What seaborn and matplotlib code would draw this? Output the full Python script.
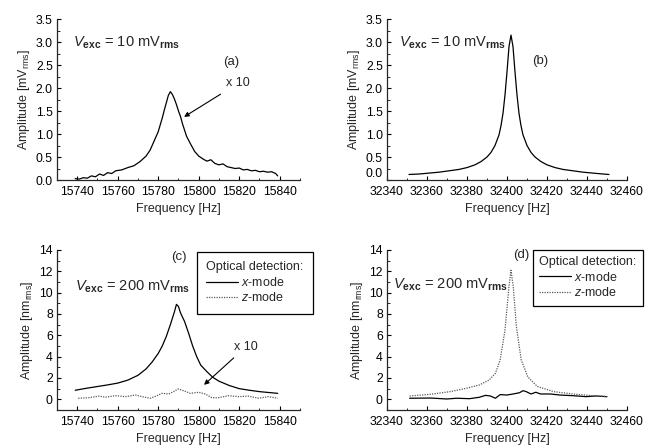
import numpy as np
import pandas as pd
import matplotlib
matplotlib.use("Agg")
import matplotlib.pyplot as plt
from matplotlib.ticker import MultipleLocator
import seaborn as sns

# panel (a): 10 mV excitation, low mode (x10)
a_freq = [15739, 15741, 15743, 15745, 15747, 15749, 15751, 15753, 15755, 15757,
          15759, 15762, 15765, 15768, 15771, 15774, 15776, 15778, 15780, 15782,
          15783, 15784, 15785, 15786, 15787, 15788, 15789, 15790, 15791, 15792,
          15794, 15796, 15798, 15800, 15802, 15804, 15806, 15808, 15810, 15812,
          15814, 15816, 15818, 15820, 15822, 15824, 15826, 15828, 15830, 15832,
          15834, 15836, 15838, 15839]
a_amp = [0.03, 0.02, 0.05, 0.04, 0.09, 0.07, 0.13, 0.10, 0.16, 0.14,
         0.20, 0.22, 0.27, 0.31, 0.40, 0.52, 0.65, 0.85, 1.05, 1.35,
         1.52, 1.68, 1.84, 1.92, 1.86, 1.76, 1.64, 1.50, 1.38, 1.22,
         0.95, 0.78, 0.62, 0.52, 0.46, 0.41, 0.44, 0.36, 0.33, 0.35,
         0.29, 0.27, 0.25, 0.26, 0.22, 0.23, 0.20, 0.21, 0.18, 0.19,
         0.17, 0.18, 0.14, 0.09]

# panel (b): 10 mV excitation, high mode
b_freq = [32351, 32356, 32361, 32366, 32371, 32376, 32380, 32384, 32387, 32390,
          32392, 32394, 32396, 32397, 32398, 32399, 32400, 32401, 32402, 32403,
          32404, 32405, 32406, 32407, 32408, 32410, 32412, 32414, 32417, 32420,
          32424, 32428, 32433, 32438, 32443, 32448, 32451]
b_amp = [0.12, 0.13, 0.15, 0.17, 0.20, 0.23, 0.27, 0.33, 0.40, 0.50,
         0.60, 0.75, 0.98, 1.18, 1.45, 1.85, 2.35, 2.90, 3.15, 2.90,
         2.35, 1.85, 1.45, 1.18, 0.98, 0.75, 0.60, 0.50, 0.40, 0.33,
         0.27, 0.23, 0.20, 0.17, 0.15, 0.13, 0.12]

# panel (c): 200 mV, optical detection
c_x_freq = [15739, 15745, 15750, 15755, 15760, 15765, 15770, 15774, 15777, 15780,
            15782, 15784, 15786, 15788, 15789, 15790, 15791, 15793, 15795, 15797,
            15799, 15801, 15804, 15807, 15810, 15815, 15820, 15825, 15830, 15835,
            15839]
c_x_amp = [0.85, 1.05, 1.20, 1.35, 1.52, 1.80, 2.25, 2.85, 3.50, 4.30,
           5.00, 5.90, 7.00, 8.20, 8.90, 8.70, 8.10, 7.30, 6.20, 5.00,
           4.00, 3.20, 2.60, 2.05, 1.70, 1.30, 1.00, 0.85, 0.72, 0.63,
           0.56]
c_z_freq = [15740.5, 15745.7, 15750.6, 15754, 15758.9, 15763.8, 15768.7, 15772,
            15776.1, 15779.4, 15781.9, 15785.2, 15787.6, 15789.8, 15792.6, 15795.8,
            15800, 15803.2, 15806.5, 15809.8, 15814.7, 15819.7, 15824.6, 15829.5,
            15834.4, 15839]
c_z_amp = [0.10, 0.15, 0.30, 0.20, 0.34, 0.25, 0.40, 0.25,
           0.10, 0.34, 0.56, 0.50, 0.72, 0.97, 0.80, 0.56,
           0.66, 0.50, 0.15, 0.15, 0.34, 0.25, 0.30, 0.10,
           0.25, 0.10]

# panel (d)
d_x_freq = [32351.3, 32361.8, 32369.9, 32374.8, 32381.3, 32386.1, 32389.3, 32391.7,
            32394.2, 32396.6, 32399.9, 32403.1, 32406.3, 32408, 32409.6, 32412,
            32414.4, 32416.8, 32421.7, 32426.5, 32433, 32439.5, 32444.4, 32450]
d_x_amp = [0.10, 0.12, 0.03, 0.10, 0.06, 0.19, 0.37, 0.31,
           0.10, 0.44, 0.40, 0.50, 0.62, 0.81, 0.72, 0.50,
           0.66, 0.50, 0.50, 0.40, 0.34, 0.25, 0.31, 0.25]
d_z_freq = [32351.3, 32361.8, 32371.6, 32379.6, 32386.1, 32391, 32394.2, 32396.6,
            32399, 32401, 32402, 32403.1, 32404.7, 32407.1, 32410.4, 32415.2,
            32423.3, 32433, 32442.7, 32450]
d_z_amp = [0.31, 0.47, 0.72, 1.03, 1.34, 1.80, 2.44, 3.70,
           6.50, 10.60, 12.10, 10.60, 6.80, 3.70, 2.10, 1.20,
           0.72, 0.50, 0.34, 0.25]

sns.set_style("ticks")
plt.rcParams["font.family"] = ["Liberation Sans", "DejaVu Sans"]
plt.rcParams["mathtext.fontset"] = "custom"
plt.rcParams["mathtext.rm"] = "Liberation Sans"
plt.rcParams["mathtext.it"] = "Liberation Sans:italic"
plt.rcParams["mathtext.bf"] = "Liberation Sans:bold"
plt.rcParams["axes.linewidth"] = 0.9

fig = plt.figure(figsize=(6.49, 4.45), dpi=100)
ax_a = fig.add_axes([0.0878, 0.5955, 0.3744, 0.3618])
ax_b = fig.add_axes([0.5963, 0.5955, 0.3698, 0.3618])
ax_c = fig.add_axes([0.0878, 0.0787, 0.3744, 0.3596])
ax_d = fig.add_axes([0.5963, 0.0787, 0.3698, 0.3596])

solid = dict(color="black", lw=0.9)
dotted = dict(color="0.35", lw=0.9, linestyle=(0, (1, 1)))

sns.lineplot(x=a_freq, y=a_amp, ax=ax_a, **solid)
sns.lineplot(x=b_freq, y=b_amp, ax=ax_b, **solid)
sns.lineplot(x=c_x_freq, y=c_x_amp, ax=ax_c, label=r"$x$-mode", **solid)
sns.lineplot(x=c_z_freq, y=c_z_amp, ax=ax_c, label=r"$z$-mode", **dotted)
sns.lineplot(x=d_x_freq, y=d_x_amp, ax=ax_d, label=r"$x$-mode", **solid)
sns.lineplot(x=d_z_freq, y=d_z_amp, ax=ax_d, label=r"$z$-mode", **dotted)

for ax in [ax_a, ax_c]:
    ax.set_xlim(15730, 15850)
    ax.set_xticks([15740, 15760, 15780, 15800, 15820, 15840])
for ax in [ax_b, ax_d]:
    ax.set_xlim(32340, 32460)
    ax.set_xticks([32340, 32360, 32380, 32400, 32420, 32440, 32460])
for ax in [ax_a, ax_b]:
    ax.set_ylim(0, 3.5)
    ax.set_yticks([0, 0.5, 1, 1.5, 2, 2.5, 3, 3.5])
    ax.yaxis.set_minor_locator(MultipleLocator(0.25))
    ax.yaxis.set_major_formatter(plt.FormatStrFormatter("%.1f"))
    ax.set_ylabel(r"Amplitude [mV$_{\rm rms}$]", fontsize=9, labelpad=3)
for ax in [ax_c, ax_d]:
    ax.set_ylim(-1, 14)
    ax.set_yticks([0, 2, 4, 6, 8, 10, 12, 14])
    ax.yaxis.set_minor_locator(MultipleLocator(1))
    ax.set_ylabel(r"Amplitude [nm$_{\rm rms}$]", fontsize=9, labelpad=3)

for ax in [ax_a, ax_b, ax_c, ax_d]:
    sns.despine(ax=ax)
    ax.xaxis.set_minor_locator(MultipleLocator(10))
    ax.tick_params(which="major", direction="in", length=3, width=0.8,
                   labelsize=8.8, pad=3, colors="black")
    ax.tick_params(which="minor", direction="in", length=1.8, width=0.7)
    ax.tick_params(axis="x", pad=4)
    ax.set_xlabel("Frequency [Hz]", fontsize=9, labelpad=4)

# in (b) the "0.0" sits just above the corner, clear of "32340"
ax_b.yaxis.get_major_ticks()[0].label1.set_verticalalignment("bottom")

vtxt10 = r"$V_{\mathbf{exc}}$ = 10 mV$_{\mathbf{rms}}$"
vtxt200 = r"$V_{\mathbf{exc}}$ = 200 mV$_{\mathbf{rms}}$"
ax_a.text(15738, 2.9, vtxt10, fontsize=10.5, ha="left", va="baseline")
ax_b.text(32346, 2.9, vtxt10, fontsize=10.5, ha="left", va="baseline")
ax_c.text(15739, 10.2, vtxt200, fontsize=10.5, ha="left", va="baseline")
ax_d.text(32343, 10.4, vtxt200, fontsize=10.5, ha="left", va="baseline")

ax_a.text(15816, 2.57, "(a)", fontsize=9.5, ha="center", va="center")
ax_b.text(32416.5, 2.59, "(b)", fontsize=9.5, ha="center", va="center")
ax_c.text(15790, 13.35, "(c)", fontsize=9.5, ha="center", va="center")
ax_d.text(32407, 13.5, "(d)", fontsize=9.5, ha="center", va="center", zorder=10)

arrow = dict(arrowstyle="-|>", color="black", lw=0.8, mutation_scale=7)
ax_a.annotate("x 10", xy=(15791.6, 1.34), xytext=(15813.5, 2.1),
              fontsize=9, ha="left", va="center", arrowprops=arrow)
ax_c.annotate("x 10", xy=(15801.6, 1.18), xytext=(15817.5, 4.93),
              fontsize=9, ha="left", va="center", arrowprops=arrow)

leg_kw = dict(title="Optical detection:", loc="upper left", fontsize=9,
              title_fontsize=9, frameon=True, fancybox=False, edgecolor="black",
              framealpha=1, handlelength=2.5, handletextpad=0.3,
              labelspacing=0.2, alignment="left", borderaxespad=0)
leg_c = ax_c.legend(bbox_to_anchor=(197 / 649, 1 - 252 / 445), borderpad=0.75,
                    bbox_transform=fig.transFigure, **leg_kw)
leg_d = ax_d.legend(bbox_to_anchor=(533 / 649, 1 - 250 / 445), borderpad=0.5,
                    bbox_transform=fig.transFigure, **leg_kw)
for leg in [leg_c, leg_d]:
    leg.get_frame().set_linewidth(0.9)
    leg.set_zorder(5)

plt.savefig("out.png", dpi=100)
